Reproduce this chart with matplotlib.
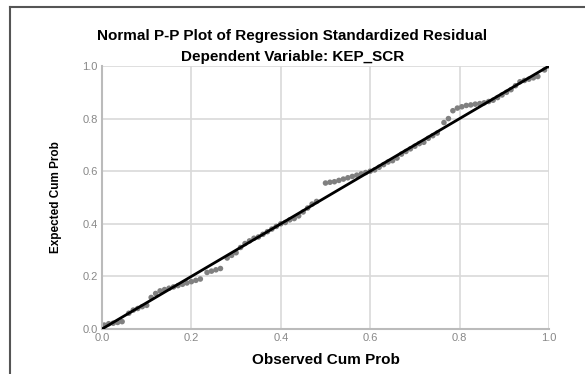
import matplotlib
matplotlib.use("Agg")
import matplotlib.pyplot as plt
from matplotlib.lines import Line2D

# Daten: beobachtete vs. erwartete kumulierte Wahrscheinlichkeit
observed = [0.005, 0.015, 0.025, 0.035, 0.045, 0.06, 0.07, 0.08, 0.09, 0.10,
            0.11, 0.12, 0.13, 0.14, 0.15, 0.16, 0.17, 0.18, 0.19, 0.20,
            0.21, 0.22, 0.235, 0.245, 0.255, 0.265, 0.28, 0.29, 0.30, 0.31,
            0.32, 0.33, 0.34, 0.35, 0.36, 0.37, 0.38, 0.39, 0.40, 0.41,
            0.42, 0.43, 0.44, 0.45, 0.46, 0.47, 0.48, 0.50, 0.51, 0.52,
            0.53, 0.54, 0.55, 0.56, 0.57, 0.58, 0.59, 0.60, 0.61, 0.62,
            0.63, 0.64, 0.65, 0.66, 0.67, 0.68, 0.69, 0.70, 0.71, 0.72,
            0.73, 0.74, 0.75, 0.765, 0.775, 0.785, 0.795, 0.805, 0.815, 0.825,
            0.835, 0.845, 0.855, 0.865, 0.875, 0.885, 0.895, 0.905, 0.915, 0.925,
            0.935, 0.945, 0.955, 0.965, 0.975, 0.99, 1.0]
expected = [0.015, 0.02, 0.022, 0.025, 0.028, 0.06, 0.072, 0.078, 0.085, 0.09,
            0.12, 0.135, 0.145, 0.15, 0.155, 0.16, 0.165, 0.17, 0.175, 0.18,
            0.185, 0.19, 0.215, 0.22, 0.225, 0.23, 0.27, 0.28, 0.29, 0.31,
            0.325, 0.335, 0.345, 0.35, 0.36, 0.37, 0.38, 0.39, 0.40, 0.405,
            0.415, 0.42, 0.43, 0.445, 0.46, 0.475, 0.485, 0.555, 0.558, 0.56,
            0.565, 0.57, 0.575, 0.58, 0.585, 0.59, 0.595, 0.60, 0.605, 0.615,
            0.625, 0.635, 0.64, 0.65, 0.665, 0.675, 0.685, 0.695, 0.705, 0.71,
            0.725, 0.735, 0.745, 0.785, 0.80, 0.83, 0.84, 0.845, 0.85, 0.852,
            0.855, 0.857, 0.86, 0.865, 0.87, 0.88, 0.89, 0.90, 0.91, 0.925,
            0.94, 0.945, 0.95, 0.955, 0.96, 0.985, 1.0]
ticks = [0.0, 0.2, 0.4, 0.6, 0.8, 1.0]
tick_labels = ["0.0", "0.2", "0.4", "0.6", "0.8", "1.0"]

fig = plt.figure(figsize=(5.85, 3.74), dpi=100)
ax = fig.add_axes([102 / 585, 1 - 329 / 374, 447 / 585, 263 / 374])

# Rahmen oben und links
fig.add_artist(Line2D([10 / 585, 1.0], [1 - 7 / 374, 1 - 7 / 374],
                      transform=fig.transFigure, color="#555555", lw=1.5))
fig.add_artist(Line2D([10 / 585, 10 / 585], [0.0, 1 - 7 / 374],
                      transform=fig.transFigure, color="#555555", lw=1.5))

ax.set_xlim(0, 1)
ax.set_ylim(0, 1)
ax.grid(True, color="#d9d9d9", lw=1.2)
ax.set_axisbelow(True)

ax.scatter(observed, expected, s=16, color="#808080", edgecolors="none", zorder=2)
ax.plot([0, 1], [0, 1], color="black", lw=2, zorder=3)

ax.set_xticks(ticks)
ax.set_xticklabels(tick_labels)
ax.set_yticks(ticks)
ax.set_yticklabels(tick_labels)
ax.tick_params(length=0, labelsize=8, labelcolor="#888888", pad=3)
for lbl in ax.get_xticklabels() + ax.get_yticklabels():
    lbl.set_fontfamily("Liberation Sans")

for side in ["top", "right"]:
    ax.spines[side].set_visible(False)
for side in ["left", "bottom"]:
    ax.spines[side].set_color("#bbbbbb")
    ax.spines[side].set_linewidth(1.5)

ax.set_xlabel("Observed Cum Prob", fontsize=11, fontweight="bold",
              family="Liberation Sans", labelpad=7)
ax.set_ylabel("Expected Cum Prob", fontsize=8.5, fontweight="bold",
              family="Liberation Sans", labelpad=15)

fig.text(0.5, 1 - 36 / 374, "Normal P-P Plot of Regression Standardized Residual",
         ha="center", va="center", fontsize=11, fontweight="bold", family="Liberation Sans")
fig.text(0.5, 1 - 57 / 374, "Dependent Variable: KEP_SCR",
         ha="center", va="center", fontsize=11, fontweight="bold", family="Liberation Sans")

fig.savefig("out.png", dpi=100)
